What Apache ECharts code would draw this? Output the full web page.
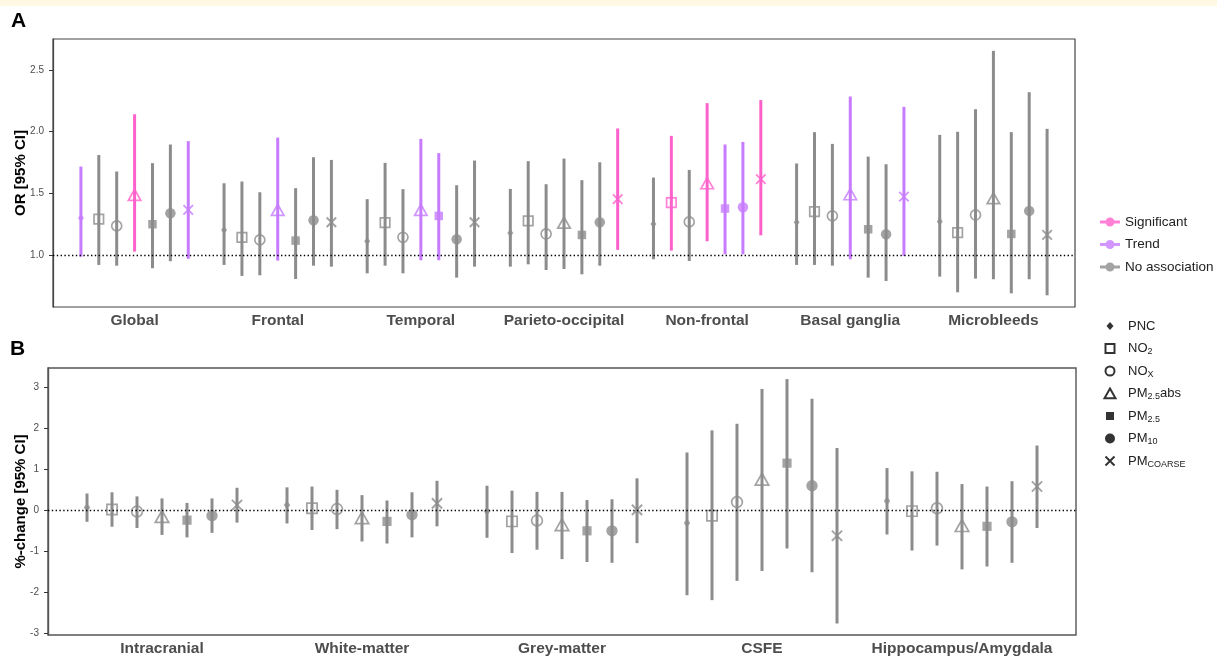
<!DOCTYPE html>
<html>
<head>
<meta charset="utf-8">
<script src="https://cdn.jsdelivr.net/npm/echarts@6/dist/echarts.min.js"></script>
<style>
html,body{margin:0;padding:0;background:#fff;}
#chart{width:1217px;height:657px;}
</style>
</head>
<body>
<div id="chart"></div>
<script>
// ---------------- DATA ----------------
const regionsA = ['Global','Frontal','Temporal','Parieto-occipital','Non-frontal','Basal ganglia','Microbleeds'];
const regionsB = ['Intracranial','White-matter','Grey-matter','CSFE','Hippocampus/Amygdala'];
const pollutants = ['PNC','NO2','NOx','PM2.5abs','PM2.5','PM10','PMcoarse'];
const statusNames = ['Significant','Trend','No association'];

// Panel A: odds ratios (rows = regions, columns = pollutants)
const orEst = [
  [1.300,1.290,1.235,1.487,1.249,1.338,1.365],
  [1.203,1.143,1.122,1.365,1.116,1.281,1.265],
  [1.111,1.262,1.143,1.365,1.316,1.127,1.265],
  [1.178,1.276,1.170,1.262,1.162,1.265,1.452],
  [1.251,1.424,1.268,1.581,1.376,1.387,1.614],
  [1.265,1.351,1.316,1.492,1.208,1.168,1.473],
  [1.270,1.181,1.324,1.460,1.170,1.357,1.162]
];
const orLow = [
  [0.986,0.919,0.913,1.027,0.892,0.949,0.968],
  [0.919,0.830,0.835,0.954,0.805,0.913,0.905],
  [0.851,0.913,0.851,0.957,0.957,0.816,0.905],
  [0.905,0.924,0.878,0.886,0.843,0.913,1.041],
  [0.965,1.035,0.951,1.111,1.005,1.005,1.159],
  [0.919,0.919,0.913,0.965,0.816,0.789,0.992],
  [0.824,0.697,0.808,0.803,0.689,0.803,0.673]
];
const orHigh = [
  [1.716,1.810,1.676,2.140,1.744,1.895,1.922],
  [1.581,1.595,1.508,1.951,1.541,1.792,1.770],
  [1.452,1.746,1.533,1.941,1.825,1.565,1.765],
  [1.535,1.760,1.573,1.781,1.606,1.751,2.025],
  [1.627,1.965,1.689,2.230,1.895,1.916,2.255],
  [1.741,1.995,1.900,2.284,1.797,1.735,2.200],
  [1.973,1.998,2.181,2.654,1.995,2.319,2.022]
];
// S = Significant, T = Trend, N = No association
const orStatus = [
  ['T','N','N','S','N','N','T'],
  ['N','N','N','T','N','N','N'],
  ['N','N','N','T','T','N','N'],
  ['N','N','N','N','N','N','S'],
  ['N','S','N','S','T','T','S'],
  ['N','N','N','T','N','N','T'],
  ['N','N','N','N','N','N','N']
];

// Panel B: % change in volume
const pctEst = [
  [0.07,0.02,-0.03,-0.15,-0.24,-0.13,0.13],
  [0.13,0.05,0.03,-0.18,-0.27,-0.11,0.17],
  [-0.02,-0.27,-0.25,-0.35,-0.50,-0.50,0.01],
  [-0.31,-0.13,0.20,0.76,1.15,0.60,-0.62],
  [0.23,-0.02,0.05,-0.37,-0.39,-0.28,0.58]
];
const pctLow = [
  [-0.28,-0.40,-0.43,-0.60,-0.66,-0.55,-0.30],
  [-0.32,-0.48,-0.46,-0.76,-0.81,-0.66,-0.39],
  [-0.67,-1.04,-0.96,-1.19,-1.26,-1.28,-0.80],
  [-2.07,-2.19,-1.72,-1.48,-0.93,-1.51,-2.76],
  [-0.59,-0.98,-0.86,-1.44,-1.37,-1.28,-0.43]
];
const pctHigh = [
  [0.41,0.44,0.34,0.29,0.18,0.29,0.55],
  [0.56,0.58,0.50,0.37,0.24,0.44,0.72],
  [0.60,0.48,0.45,0.45,0.25,0.27,0.78],
  [1.41,1.95,2.11,2.96,3.20,2.72,1.52],
  [1.03,0.95,0.94,0.64,0.58,0.71,1.58]
];

const ticksA = [1.0,1.5,2.0,2.5];
const ticksB = [-3,-2,-1,0,1,2,3];

// ---------------- STYLE ----------------
const statusColor = {S:'#FF61CC', T:'#C77CFF', N:'#8C8C8C'};
const FONT = 'Liberation Sans, Arial, Helvetica, sans-serif';
const GROUP = 8;   // x units per region group
const PAD = 1.56;  // x padding (units)

const shapeSym = ['diamond','rect','circle','triangle','rect','circle','path://M0,0L10,10M0,10L10,0'];
const shapeOpen = [false,true,true,true,false,false,true];
const shapeSize = [[6,8],9.5,10,[12.5,11],8.5,10.5,9.5];

function scaleSize(s,k){ return Array.isArray(s) ? [s[0]*k, s[1]*k] : s*k; }

function buildPanel(panel, est, low, high, status, scale){
  const series = [];
  const bars = [];
  est.forEach((row,g)=>{
    row.forEach((v,j)=>{
      const st = status ? status[g][j] : 'N';
      bars.push([g*GROUP+j, low[g][j], high[g][j], st]);
    });
  });
  series.push({
    type:'custom', name:'ci'+panel, xAxisIndex:panel, yAxisIndex:panel, z:2,
    silent:true, animation:false,
    encode:{x:0, y:[1,2]},
    data: bars,
    renderItem: function(params, api){
      const x = api.value(0);
      const p1 = api.coord([x, api.value(1)]);
      const p2 = api.coord([x, api.value(2)]);
      const st = bars[params.dataIndex][3];
      return {type:'line', shape:{x1:p1[0],y1:p1[1],x2:p2[0],y2:p2[1]},
              style:{stroke: statusColor[st], lineWidth:3}};
    },
    markLine:{
      silent:true, symbol:'none', label:{show:false}, animation:false,
      lineStyle:{color:'#000', type:[1.4,2.4], width:1.3},
      data:[{yAxis: panel===0 ? 1 : 0}]
    }
  });
  pollutants.forEach((name,j)=>{
    const data = est.map((row,g)=>{
      const st = status ? status[g][j] : 'N';
      const c = statusColor[st];
      return {
        value:[g*GROUP+j, row[j]],
        itemStyle: shapeOpen[j]
          ? {color:'rgba(0,0,0,0)', borderColor:c, borderWidth: j===6 ? 1.9 : 1.7}
          : {color:c, borderWidth:0}
      };
    });
    series.push({
      type:'scatter', name:name, xAxisIndex:panel, yAxisIndex:panel, z:3,
      symbol: shapeSym[j], symbolSize: scaleSize(shapeSize[j], scale),
      itemStyle:{color:'#000'}, emphasis:{disabled:true}, silent:true,
      animation:false, data:data
    });
  });
  return series;
}

const series = [].concat(
  buildPanel(0, orEst, orLow, orHigh, orStatus, 1.0),
  buildPanel(1, pctEst, pctLow, pctHigh, null, 1.08)
);
statusNames.forEach((n,i)=>{
  series.push({type:'scatter', name:n, data:[], itemStyle:{color:[statusColor.S,statusColor.T,statusColor.N][i]}});
});

function groupCenters(n){ const a=[]; for(let g=0; g<n; g++) a.push(g*GROUP+3); return a; }

const catLabel = {fontFamily:FONT, fontWeight:'bold', fontSize:15.5, color:'#4D4D4D', margin:6};
const yLabel = {fontFamily:FONT, fontSize:10, color:'#4D4D4D', margin:9};

const legendIcons = [
  'path://M0,0M24,12M11,2L14.5,6L11,10L7.5,6Z',
  'path://M0,0M24,12M6.5,1.5H15.5V10.5H6.5Z',
  'path://M0,0M24,12M11,1.5A4.5,4.5,0,1,1,11,10.5A4.5,4.5,0,1,1,11,1.5Z',
  'path://M0,0M24,12M11,1L16.5,10.8H5.5Z',
  'path://M0,0M24,12M7,2H15V10H7Z',
  'path://M0,0M24,12M11,1A5,5,0,1,1,11,11A5,5,0,1,1,11,1Z',
  'path://M0,0M24,12M6.5,1.5L15.5,10.5M6.5,10.5L15.5,1.5'
];
const legendRich = {
  'PNC':'{m|PNC}', 'NO2':'{m|NO}{s|2}', 'NOx':'{m|NO}{s|X}',
  'PM2.5abs':'{m|PM}{s|2.5}{m|abs}', 'PM2.5':'{m|PM}{s|2.5}',
  'PM10':'{m|PM}{s|10}', 'PMcoarse':'{m|PM}{s|COARSE}'
};
const statusIcon = 'path://M0,3.6H20V6.4H0Z M10,0.5A4.5,4.5,0,1,1,10,9.5A4.5,4.5,0,1,1,10,0.5Z';

const option = {
  backgroundColor:'#fff',
  animation:false,
  grid:[
    {left:53, top:39, width:1022, height:268, show:true, borderColor:'#444', borderWidth:1.2, backgroundColor:'transparent'},
    {left:48, top:368, width:1028, height:268.5, show:true, borderColor:'#555', borderWidth:1.4, backgroundColor:'transparent'}
  ],
  xAxis:[
    {type:'value', gridIndex:0, min:-PAD, max:(regionsA.length-1)*GROUP+6+PAD,
     axisLine:{show:false, onZero:false}, axisTick:{show:false}, splitLine:{show:false},
     axisLabel:Object.assign({customValues:groupCenters(regionsA.length),
       formatter:v=>regionsA[Math.round((v-3)/GROUP)]}, catLabel)},
    {type:'value', gridIndex:1, min:-PAD, max:(regionsB.length-1)*GROUP+6+PAD,
     axisLine:{show:false, onZero:false}, axisTick:{show:false}, splitLine:{show:false},
     axisLabel:Object.assign({customValues:groupCenters(regionsB.length),
       formatter:v=>regionsB[Math.round((v-3)/GROUP)]}, catLabel)}
  ],
  yAxis:[
    {type:'value', gridIndex:0, min:0.578, max:2.75,
     name:'OR [95% CI]', nameLocation:'middle', nameGap:25, nameRotate:90, nameMoveOverlap:false,
     nameTextStyle:{fontFamily:FONT, fontWeight:'bold', fontSize:15, color:'#000'},
     axisLine:{show:true, onZero:false, lineStyle:{color:'#444', width:1.2}},
     axisTick:{show:true, length:4, customValues:ticksA, lineStyle:{color:'#333', width:1}},
     splitLine:{show:false},
     axisLabel:Object.assign({customValues:ticksA, formatter:v=>Number(v).toFixed(1)}, yLabel)},
    {type:'value', gridIndex:1, min:-3.04, max:3.47,
     name:'%-change [95% CI]', nameLocation:'middle', nameGap:20, nameRotate:90, nameMoveOverlap:false,
     nameTextStyle:{fontFamily:FONT, fontWeight:'bold', fontSize:15, color:'#000'},
     axisLine:{show:true, onZero:false, lineStyle:{color:'#555', width:1.4}},
     axisTick:{show:true, length:4, customValues:ticksB, lineStyle:{color:'#333', width:1}},
     splitLine:{show:false},
     axisLabel:Object.assign({customValues:ticksB, formatter:v=>String(v)}, yLabel)}
  ],
  legend:[
    {orient:'vertical', left:1095, top:209, itemWidth:20, itemHeight:10, itemGap:6.5,
     selectedMode:false,
     textStyle:{fontFamily:FONT, fontSize:13.5, color:'#222', lineHeight:16},
     data:statusNames.map((n,i)=>({name:n, icon:statusIcon,
       itemStyle:{color:[statusColor.S,statusColor.T,statusColor.N][i], borderWidth:0}}))},
    {orient:'vertical', left:1093, top:313, itemWidth:24, itemHeight:12, itemGap:6.5,
     selectedMode:false,
     formatter:n=>legendRich[n],
     textStyle:{fontFamily:FONT, fontSize:13, color:'#222', lineHeight:16,
       rich:{m:{fontFamily:FONT, fontSize:13, color:'#222', lineHeight:16},
             s:{fontFamily:FONT, fontSize:9, color:'#222', lineHeight:9, verticalAlign:'bottom'}}},
     data:pollutants.map((n,j)=>({name:n, icon:legendIcons[j],
       itemStyle: shapeOpen[j]
         ? {color:'rgba(0,0,0,0)', borderColor:'#000', borderWidth:2}
         : {color:'#000', borderWidth:0}}))}
  ],
  graphic:[
    {type:'rect', left:0, top:0, shape:{width:1217, height:6}, style:{fill:'#FFF8E2'}, silent:true},
    {type:'text', left:11, top:11, style:{text:'A', font:'bold 21px '+FONT, fill:'#000'}},
    {type:'text', left:10, top:339, style:{text:'B', font:'bold 21px '+FONT, fill:'#000'}}
  ],
  series:series
};

const chart = echarts.init(document.getElementById('chart'), null, {renderer:'canvas'});
chart.setOption(option);
</script>
</body>
</html>
